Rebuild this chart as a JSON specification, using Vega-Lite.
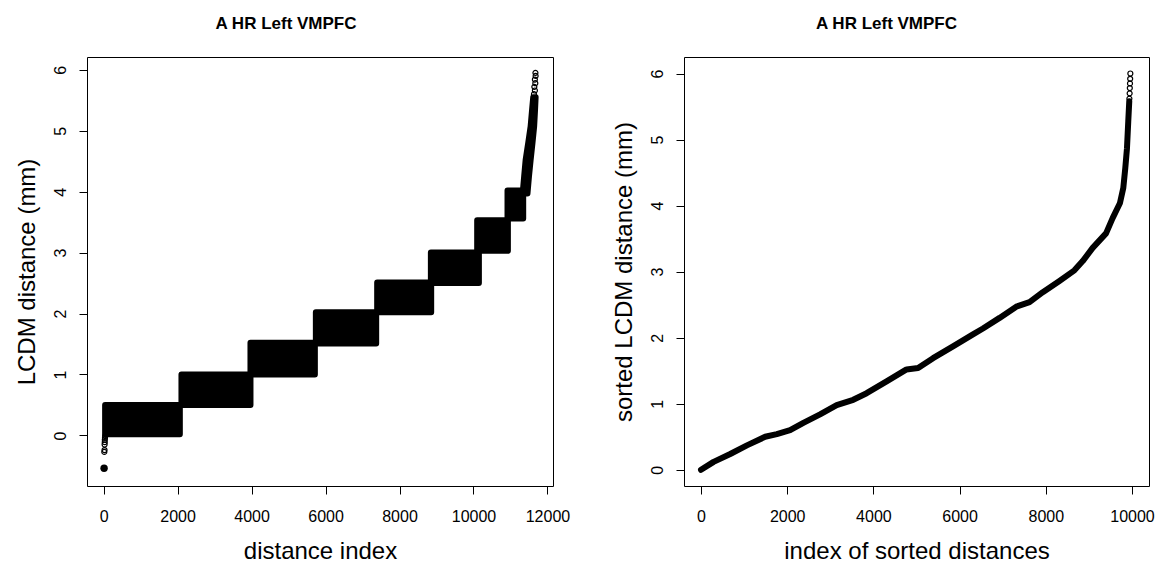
{
  "$schema": "https://vega.github.io/schema/vega-lite/v6.json",
  "autosize": {"type": "none"},
  "padding": {"left": 87, "top": 57, "right": 1069, "bottom": 509},
  "bounds": "flush",
  "spacing": 131,
  "config": {
    "font": "Liberation Sans",
    "view": {"stroke": "black", "strokeWidth": 1},
    "axis": {"domain": false, "grid": false, "ticks": true, "tickColor": "black", "tickSize": 8, "tickWidth": 1,
      "labelFont": "Liberation Sans", "labelFontSize": 16, "labelColor": "black", "labelPadding": 14,
      "labelFlush": false, "labelOverlap": false,
      "titleFont": "Liberation Sans", "titleFontSize": 24, "titleFontWeight": "normal", "titleColor": "black"},
    "axisY": {"labelAngle": 270, "labelAlign": "center", "labelBaseline": "alphabetic", "titlePadding": 13},
    "axisX": {"titlePadding": 15},
    "title": {"font": "Liberation Sans", "fontSize": 17, "fontWeight": "bold", "color": "black", "anchor": "middle", "frame": "group", "offset": 24, "baseline": "alphabetic"}
  },
  "datasets": {
    "blocks": [
      {"i0": 40, "i1": 2060, "v0": 0.02, "v1": 0.5},
      {"i0": 2104, "i1": 3970, "v0": 0.5, "v1": 1.0},
      {"i0": 3970, "i1": 5711, "v0": 1.0, "v1": 1.52},
      {"i0": 5738, "i1": 7369, "v0": 1.51, "v1": 2.02},
      {"i0": 7396, "i1": 8856, "v0": 2.02, "v1": 2.51},
      {"i0": 8848, "i1": 10146, "v0": 2.5, "v1": 3.0},
      {"i0": 10100, "i1": 10930, "v0": 3.03, "v1": 3.53},
      {"i0": 10920, "i1": 11344, "v0": 3.56, "v1": 4.02}
    ],
    "tail": [
      {"v": 3.97, "lo": 11330, "hi": 11460},
      {"v": 4.25, "lo": 11370, "hi": 11500},
      {"v": 4.52, "lo": 11410, "hi": 11545},
      {"v": 4.8, "lo": 11480, "hi": 11595},
      {"v": 5.07, "lo": 11545, "hi": 11640},
      {"v": 5.35, "lo": 11585, "hi": 11665},
      {"v": 5.55, "lo": 11615, "hi": 11680}
    ],
    "pts": [
      {"i": 18, "v": -0.27}, {"i": 24, "v": -0.24}, {"i": 26, "v": -0.15}, {"i": 30, "v": -0.11},
      {"i": 32, "v": -0.07}, {"i": 36, "v": -0.04}, {"i": 40, "v": -0.01},
      {"i": 11635, "v": 5.6}, {"i": 11660, "v": 5.66}, {"i": 11645, "v": 5.72}, {"i": 11672, "v": 5.78},
      {"i": 11660, "v": 5.84}, {"i": 11680, "v": 5.9}, {"i": 11675, "v": 5.95}
    ],
    "blob": [
      {"i": 12, "v": -0.54}
    ],
    "sorted": [
      {"i": 0, "v": 0.0}, {"i": 292, "v": 0.12}, {"i": 678, "v": 0.24}, {"i": 1065, "v": 0.37},
      {"i": 1488, "v": 0.5}, {"i": 1759, "v": 0.54}, {"i": 2067, "v": 0.6}, {"i": 2375, "v": 0.71},
      {"i": 2762, "v": 0.84}, {"i": 3148, "v": 0.98}, {"i": 3532, "v": 1.06}, {"i": 3843, "v": 1.16},
      {"i": 4306, "v": 1.34}, {"i": 4769, "v": 1.52}, {"i": 5037, "v": 1.54}, {"i": 5384, "v": 1.69},
      {"i": 5847, "v": 1.87}, {"i": 6310, "v": 2.05}, {"i": 6542, "v": 2.14}, {"i": 6928, "v": 2.3},
      {"i": 7315, "v": 2.47}, {"i": 7623, "v": 2.54}, {"i": 7931, "v": 2.69}, {"i": 8317, "v": 2.86},
      {"i": 8664, "v": 3.02}, {"i": 8857, "v": 3.16}, {"i": 9088, "v": 3.36}, {"i": 9398, "v": 3.58},
      {"i": 9551, "v": 3.81}, {"i": 9722, "v": 4.04}, {"i": 9799, "v": 4.27}, {"i": 9845, "v": 4.57},
      {"i": 9884, "v": 4.87}, {"i": 9914, "v": 5.28}, {"i": 9937, "v": 5.58}
    ],
    "sortedTop": [
      {"i": 9940, "v": 5.62}, {"i": 9946, "v": 5.7}, {"i": 9950, "v": 5.78},
      {"i": 9954, "v": 5.85}, {"i": 9958, "v": 5.92}, {"i": 9962, "v": 6.0}
    ]
  },
  "hconcat": [
    {
      "width": 466, "height": 429,
      "title": {"text": "A HR Left VMPFC", "dx": -34},
      "layer": [
        {
          "data": {"name": "blocks"},
          "mark": {"type": "rect", "color": "black", "stroke": "black", "strokeWidth": 6, "strokeJoin": "round"},
          "encoding": {
            "x": {"field": "i0", "type": "quantitative", "title": "distance index",
              "scale": {"domain": [-450, 12150], "nice": false, "zero": false},
              "axis": {"values": [0, 2000, 4000, 6000, 8000, 10000, 12000], "format": "d"}},
            "x2": {"field": "i1"},
            "y": {"field": "v0", "type": "quantitative", "title": "LCDM distance (mm)",
              "scale": {"domain": [-0.83, 6.21], "nice": false, "zero": false},
              "axis": {"values": [0, 1, 2, 3, 4, 5, 6], "format": "d"}},
            "y2": {"field": "v1"}
          }
        },
        {
          "data": {"name": "tail"},
          "mark": {"type": "area", "orient": "horizontal", "color": "black", "stroke": "black", "strokeWidth": 6, "strokeJoin": "round"},
          "encoding": {
            "y": {"field": "v", "type": "quantitative", "title": "LCDM distance (mm)"},
            "x": {"field": "lo", "type": "quantitative", "title": "distance index"},
            "x2": {"field": "hi"}
          }
        },
        {
          "data": {"name": "pts"},
          "mark": {"type": "point", "shape": "circle", "filled": false, "color": "black", "size": 25, "strokeWidth": 1.2, "opacity": 1},
          "encoding": {
            "x": {"field": "i", "type": "quantitative", "title": "distance index"},
            "y": {"field": "v", "type": "quantitative", "title": "LCDM distance (mm)"}
          }
        },
        {
          "data": {"name": "blob"},
          "mark": {"type": "point", "shape": "circle", "filled": true, "color": "black", "size": 55, "opacity": 1},
          "encoding": {
            "x": {"field": "i", "type": "quantitative", "title": "distance index"},
            "y": {"field": "v", "type": "quantitative", "title": "LCDM distance (mm)"}
          }
        }
      ]
    },
    {
      "width": 465, "height": 429,
      "title": {"text": "A HR Left VMPFC", "dx": -30},
      "layer": [
        {
          "data": {"name": "sorted"},
          "mark": {"type": "line", "color": "black", "strokeWidth": 6, "strokeCap": "round", "strokeJoin": "round"},
          "encoding": {
            "x": {"field": "i", "type": "quantitative", "title": "index of sorted distances",
              "scale": {"domain": [-395, 10395], "nice": false, "zero": false},
              "axis": {"values": [0, 2000, 4000, 6000, 8000, 10000], "format": "d"}},
            "y": {"field": "v", "type": "quantitative", "title": "sorted LCDM distance (mm)",
              "scale": {"domain": [-0.245, 6.25], "nice": false, "zero": false},
              "axis": {"values": [0, 1, 2, 3, 4, 5, 6], "format": "d"}}
          }
        },
        {
          "data": {"name": "sortedTop"},
          "mark": {"type": "point", "shape": "circle", "filled": false, "color": "black", "size": 25, "strokeWidth": 1.2, "opacity": 1},
          "encoding": {
            "x": {"field": "i", "type": "quantitative", "title": "index of sorted distances"},
            "y": {"field": "v", "type": "quantitative", "title": "sorted LCDM distance (mm)"}
          }
        }
      ]
    }
  ]
}
